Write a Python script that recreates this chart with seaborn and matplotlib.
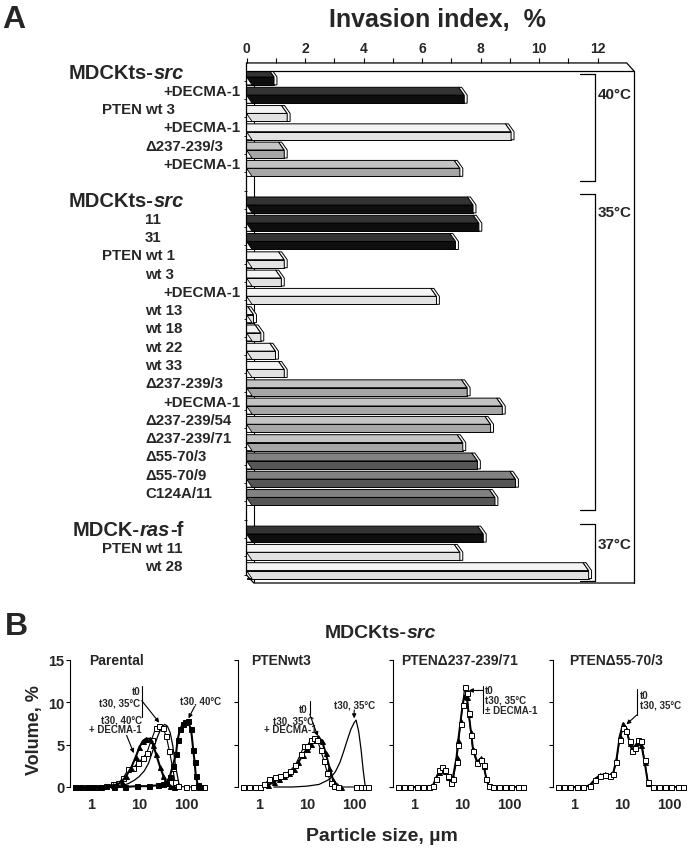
import matplotlib
matplotlib.use("Agg")
import numpy as np
import pandas as pd
import matplotlib.pyplot as plt
import seaborn as sns
from matplotlib.transforms import blended_transform_factory
from matplotlib.ticker import NullLocator

# ---------------- panel A data: invasion index, % ----------------
labels_40 = ["MDCKts-src", "+DECMA-1", "PTEN wt 3", "+DECMA-1", "Δ237-239/3", "+DECMA-1"]
values_40 = [0.75, 7.25, 1.2, 8.85, 1.1, 7.1]
shades_40 = ["black", "black", "light", "light", "mid", "mid"]

labels_35 = ["MDCKts-src", "11", "31", "PTEN wt 1", "wt 3", "+DECMA-1", "wt 13", "wt 18",
             "wt 22", "wt 33", "Δ237-239/3", "+DECMA-1", "Δ237-239/54", "Δ237-239/71",
             "Δ55-70/3", "Δ55-70/9", "C124A/11"]
values_35 = [7.55, 7.75, 6.95, 1.1, 1.0, 6.3, 0.05, 0.3, 0.8, 1.1, 7.35, 8.55, 8.15, 7.2,
             7.7, 9.0, 8.3]
shades_35 = ["black"] * 3 + ["light"] * 7 + ["mid"] * 4 + ["dark"] * 3

labels_37 = ["MDCK-ras-f", "PTEN wt 11", "wt 28"]
values_37 = [7.9, 7.1, 11.5]
shades_37 = ["black", "light", "light"]

temps = ["40°C", "35°C", "37°C"]
xticks_a = [0, 2, 4, 6, 8, 10, 12]

# ---------------- panel B data: particle size distributions ----------------
par_t0_size = [0.45, 0.6, 0.8, 1.1, 1.5, 2.0, 2.8, 3.7, 4.7, 6.0, 7.6, 9.5, 12, 14.6, 18.5, 23,
               27, 32, 38, 44, 52, 58, 66, 100, 140, 190, 240]
par_t0_vol = [0, 0, 0, 0, 0, 0.1, 0.3, 0.5, 1.1, 2.1, 2.3, 2.8, 3.4, 4.0, 5.6, 7.0, 7.2, 7.0,
              6.0, 4.3, 2.2, 0.6, 0.1, 0, 0, 0, 0]
par_35_size = [2, 4, 6, 8, 10, 13, 16, 20, 25, 30, 35, 40, 46, 52, 60, 70, 80]
par_35_vol = [0, 0.1, 0.4, 0.8, 1.2, 1.9, 2.8, 4.4, 6.0, 7.0, 7.4, 7.2, 6.4, 4.9, 2.4, 0.4, 0]
par_dec_size = [0.45, 0.6, 0.8, 1.1, 1.5, 2.0, 2.8, 3.5, 4.3, 5.4, 6.9, 8.5, 10.3, 12, 14, 17,
                20, 23, 28, 33, 38, 45, 55]
par_dec_vol = [0, 0, 0, 0, 0, 0.1, 0.2, 0.3, 0.6, 1.3, 2.3, 3.5, 4.7, 5.4, 5.7, 5.7, 5.0, 3.9,
               2.4, 1.3, 0.5, 0.1, 0]
par_40_size = [0.45, 0.9, 1.6, 3, 5, 9, 16, 25, 32, 38, 45, 52, 61, 66, 74, 84, 96, 108, 127,
               141, 151, 160, 176, 200]
par_40_vol = [0, 0, 0, 0, 0, 0.1, 0.1, 0.2, 0.3, 0.5, 1.2, 2.5, 3.9, 5.6, 6.8, 7.4, 7.7, 7.8,
              6.8, 4.4, 2.9, 1.3, 0.2, 0]

wt3_t0_size = [0.45, 0.6, 0.8, 1.0, 1.25, 1.6, 2.1, 2.7, 3.4, 4.4, 5.7, 7.4, 8.7, 10.3, 12, 14,
               16.5, 19.5, 23, 27, 32, 37, 45, 110, 140, 170, 200]
wt3_t0_vol = [0, 0, 0, 0, 0.3, 0.9, 1.2, 1.3, 1.5, 1.9, 2.6, 3.9, 4.9, 4.9, 5.6, 5.8, 5.6, 4.4,
              3.1, 1.7, 0.5, 0.1, 0, 0, 0, 0, 0]
wt3_dec_size = [0.45, 1.0, 1.5, 2.0, 2.6, 3.3, 4.2, 5.3, 6.6, 8.2, 10, 12, 14.5, 17.5, 21, 25,
                30, 36, 43, 52]
wt3_dec_vol = [0, 0, 0.2, 0.6, 1.0, 1.3, 1.6, 2.1, 2.9, 3.8, 4.5, 5.1, 5.6, 5.9, 5.4, 4.0, 2.3,
               0.8, 0.2, 0]
wt3_35_size = [2, 5, 10, 18, 30, 40, 50, 60, 72, 85, 100, 110, 125, 140, 155, 170, 180]
wt3_35_vol = [0, 0, 0.1, 0.3, 0.9, 1.8, 2.9, 4.2, 5.6, 6.8, 7.6, 7.9, 6.5, 4.4, 2.0, 0.2, 0]

d237_size = [0.45, 0.6, 0.8, 1.1, 1.5, 2.0, 2.45, 2.8, 3.3, 3.8, 4.4, 5.1, 5.8, 6.5, 7.7, 8.4,
             9.4, 10.4, 11.5, 12.7, 14, 15.6, 17.2, 21, 25.5, 28.8, 33, 37, 45, 60, 80, 110,
             150, 200]
d237_sq_vol = [0, 0, 0, 0, 0, 0, 0.1, 0.9, 2.0, 2.4, 2.0, 1.3, 0.5, 0.9, 3.0, 5.0, 7.5, 9.7,
               11.8, 11.1, 8.7, 6.2, 4.2, 2.8, 3.2, 2.6, 0.9, 0.1, 0, 0, 0, 0, 0, 0]
d237_tri_vol = [0, 0, 0, 0, 0, 0, 0.2, 1.0, 1.8, 2.2, 1.9, 1.2, 0.6, 1.2, 3.5, 5.6, 7.8, 9.8,
                10.8, 10.6, 8.6, 6.5, 4.5, 3.0, 3.4, 2.5, 1.0, 0.1, 0, 0, 0, 0, 0, 0]

d55_size = [0.45, 0.6, 0.8, 1.1, 1.5, 2.1, 2.67, 3.4, 4.35, 5.5, 6.5, 7.65, 9.0, 10.6, 12.4,
            14.6, 16.4, 18.6, 21.9, 25.7, 30.1, 35.5, 45, 60, 80, 110, 150, 200]
d55_sq_vol = [0, 0, 0, 0, 0, 0.1, 0.8, 1.3, 1.4, 1.3, 1.5, 2.9, 5.6, 7.0, 6.6, 5.4, 4.2, 4.6,
              5.6, 5.4, 3.2, 0.6, 0, 0, 0, 0, 0, 0]
d55_tri_vol = [0, 0, 0, 0, 0, 0.2, 0.9, 1.4, 1.5, 1.4, 1.6, 3.2, 6.0, 7.5, 6.9, 5.2, 4.4, 4.8,
               5.3, 5.0, 3.0, 0.5, 0, 0, 0, 0, 0, 0]

titles_b = ["Parental", "PTENwt3", "PTENΔ237-239/71", "PTENΔ55-70/3"]

# ---------------- styling ----------------
sns.set_theme(style="white")
plt.rcParams["font.family"] = ["Liberation Sans", "DejaVu Sans"]
plt.rcParams["font.weight"] = "bold"
plt.rcParams["axes.labelweight"] = "bold"

front_colors = {"black": "#0e0e0e", "light": "#e2e2e2", "mid": "#a6a6a6", "dark": "#565656"}
top_colors = {"black": "#333333", "light": "#f4f4f4", "mid": "#c4c4c4", "dark": "#828282"}

W, H = 694, 853
fig = plt.figure(figsize=(W / 100, H / 100), dpi=100)
fig.patch.set_facecolor("white")


def fx(px):
    return px / W


def fy(py):
    return 1 - py / H


# ---------------- panel A ----------------
ax = fig.add_axes([fx(246.5), fy(584), (634 - 246.5) / W, (584 - 72) / H])
ax.set_facecolor("none")

labels, values, shades, rows = [], [], [], []
r = 0
for lab, val, sh in [(labels_40, values_40, shades_40), (labels_35, values_35, shades_35),
                     (labels_37, values_37, shades_37)]:
    for a, b, c in zip(lab, val, sh):
        labels.append(a)
        values.append(b)
        shades.append(c)
        rows.append(r)
        r += 1
    r += 1
n_rows = r - 1  # 28

XMAX = 13.24
DX = 0.19      # bar depth, x units
CAP = 0.1      # end-cap width
FDX, FDY = 0.25, 0.44  # frame depth
rows = np.array(rows, dtype=float)
y_top = rows - 0.11
y_mid = rows + 0.32
y_bot = rows + 0.76

df_a = pd.DataFrame({"row": rows + 0.54, "front": np.array(values) + DX, "shade": shades})

# inner wall edge (visible between groups)
ax.plot([FDX, FDX], [0, n_rows], color="black", lw=0.8, zorder=0.5)

sns.barplot(data=df_a, x="front", y="row", hue="shade", palette=front_colors, orient="y",
            native_scale=True, width=0.44, dodge=False, legend=False, saturation=1,
            edgecolor="black", linewidth=0.7, errorbar=None, ax=ax, zorder=2)

for v, sh, yt, ym, yb in zip(values, shades, y_top, y_mid, y_bot):
    ax.fill([0, v, v + DX, 0], [yt, yt, ym, ym], facecolor=top_colors[sh],
            edgecolor="black", lw=0.7, zorder=3)
    ax.fill([v, v + CAP, v + CAP + DX, v + CAP + DX, v + DX, v + DX],
            [yt, yt, ym, yb, yb, ym], facecolor="white", edgecolor="black", lw=0.7, zorder=4)
    ax.fill([0, DX, 0], [ym, yb, yb], facecolor="white", edgecolor="black", lw=0.6, zorder=4)

ax.set_xlim(0, XMAX)
ax.set_ylim(n_rows, 0)
ax.set_xlabel("")
ax.set_ylabel("")
for s in ax.spines.values():
    s.set_visible(False)

# 3-D frame
frame_kw = dict(color="black", lw=0.9, clip_on=False, zorder=5)
ax.plot([0, XMAX - FDX, XMAX], [-FDY, -FDY, 0], **frame_kw)
ax.plot([0, XMAX], [0, 0], **frame_kw)
ax.plot([XMAX, XMAX], [0, n_rows], **frame_kw)
ax.plot([0, 0, FDX, XMAX], [-FDY, n_rows - FDY, n_rows, n_rows], **frame_kw)

# top axis
ax.xaxis.set_ticks_position("top")
ax.spines["top"].set_position(("outward", FDY * 512 / 28 * 0.72))
ax.set_xticks(xticks_a)
ax.set_xticklabels([str(t) for t in xticks_a])
ax.set_xticks(range(1, 13, 2), minor=True)
ax.tick_params(axis="x", which="both", direction="out", length=3.5, width=0.8, color="black",
               labelsize=10, pad=2, top=True, bottom=False)
ax.set_yticks(np.arange(n_rows) + 0.54)
ax.tick_params(axis="y", left=True, length=2, width=0.6, color="black", labelleft=False)

# row labels
trans = blended_transform_factory(fig.transFigure, ax.transData)
big_parts = {"MDCKts-src": [("MDCKts-", "normal"), ("src", "italic")],
             "MDCK-ras-f": [("MDCK-", "normal"), ("ras", "italic"), ("-f", "normal")]}
for lab, yr in zip(labels, rows):
    y = yr + 0.08
    if lab in big_parts:
        parts = big_parts[lab]
        x0 = 69 if lab.startswith("MDCKts") else 73
        t = ax.text(fx(x0), y, parts[0][0], transform=trans, fontsize=14.5, ha="left",
                    va="center")
        for txt, st in parts[1:]:
            t = ax.annotate(txt, xy=(1, 0), xycoords=t, xytext=(0, 0),
                            textcoords="offset points", fontsize=14.5, fontstyle=st,
                            ha="left", va="bottom", annotation_clip=False)
    elif lab.startswith("+"):
        ax.text(fx(240), y, lab, transform=trans, fontsize=10.8, ha="right", va="center")
    elif lab.startswith("PTEN"):
        ax.text(fx(102), y, lab, transform=trans, fontsize=10.8, ha="left", va="center")
    else:
        ax.text(fx(145), y, lab, transform=trans, fontsize=10.8, ha="left", va="center")

# temperature brackets
bracket_spans = [(0.16, 5.99), (6.72, 23.99), (24.75, 27.9)]
bracket_label_y = [1.26, 7.7, 25.85]
for (b0, b1), ly, tlabel in zip(bracket_spans, bracket_label_y, temps):
    ax.plot([11.39, 11.91, 11.91, 11.39], [b0, b0, b1, b1], color="black", lw=0.9,
            clip_on=False, zorder=5)
    ax.text(12.01, ly, tlabel, fontsize=11, ha="left", va="center")

fig.text(fx(437), fy(20), "Invasion index,  %", fontsize=18, ha="center", va="center")
fig.text(fx(2), fy(20), "A", fontsize=23, ha="left", va="center")

# ---------------- panel B ----------------
fig.text(fx(5), fy(627), "B", fontsize=23, ha="left", va="center")
axes_left = [70, 238, 393, 553]
axes_b = [fig.add_axes([fx(L), fy(788), 135 / W, 127 / H]) for L in axes_left]


def curve(axb, sizes, vols, marker="", mfc="white", lw=1.0, ms=3.6):
    sns.lineplot(x=sizes, y=vols, ax=axb, color="black", lw=lw, marker=marker, markersize=ms,
                 markerfacecolor=mfc, markeredgecolor="black", markeredgewidth=0.7,
                 sort=False, estimator=None, legend=False, clip_on=False)


curve(axes_b[0], par_35_size, par_35_vol, lw=0.9)
curve(axes_b[0], par_t0_size, par_t0_vol, marker="s", lw=0.8)
curve(axes_b[0], par_dec_size, par_dec_vol, marker="^", mfc="black", lw=1.5)
curve(axes_b[0], par_40_size, par_40_vol, marker="s", mfc="black", lw=1.5)

curve(axes_b[1], wt3_35_size, wt3_35_vol, lw=0.9)
curve(axes_b[1], wt3_dec_size, wt3_dec_vol, marker="^", mfc="black", lw=1.5)
curve(axes_b[1], wt3_t0_size, wt3_t0_vol, marker="s", lw=0.8)

curve(axes_b[2], d237_size, d237_tri_vol, marker="^", mfc="black", lw=1.4)
curve(axes_b[2], d237_size, d237_sq_vol, marker="s", lw=0.9)

curve(axes_b[3], d55_size, d55_tri_vol, marker="^", mfc="black", lw=1.4)
curve(axes_b[3], d55_size, d55_sq_vol, marker="s", lw=0.9)

title_pos = [(0.14, "left"), (0.10, "left"), (0.49, "center"), (0.47, "center")]
for i, axb in enumerate(axes_b):
    axb.set_facecolor("none")
    axb.set_xscale("log")
    axb.set_xlim(0.35, 250)
    axb.set_ylim(0, 15)
    axb.set_xlabel("")
    axb.set_ylabel("")
    for s in ["top", "right", "bottom"]:
        axb.spines[s].set_visible(False)
    axb.spines["left"].set_color("black")
    axb.spines["left"].set_linewidth(0.8)
    axb.set_xticks([1, 10, 100])
    axb.set_xticklabels(["1", "10", "100"])
    axb.xaxis.set_minor_locator(NullLocator())
    axb.tick_params(axis="x", length=0, labelsize=10.5, pad=7)
    axb.set_yticks([0, 5, 10, 15])
    axb.tick_params(axis="y", left=True, length=3, width=0.8, color="black", labelsize=10.5,
                    pad=1, labelleft=(i == 0))
    axb.grid(False)
    tx, tha = title_pos[i]
    axb.text(tx, 1.0, titles_b[i], transform=axb.transAxes, fontsize=10, ha=tha, va="center")

akw = dict(fontsize=7, va="center")
arrow = dict(arrowstyle="-|>", color="black", lw=0.8, mutation_scale=6, shrinkA=0, shrinkB=0)
a0, a1, a2, a3 = axes_b

a0.text(10.7, 11.35, "t0", ha="right", **akw)
a0.text(10.7, 10.0, "t30, 35°C", ha="right", **akw)
a0.plot([11.5, 11.5], [11.96, 8.3], color="black", lw=0.8)
a0.annotate("", xy=(27, 7.6), xytext=(11.5, 10.2), arrowprops=arrow)
a0.text(11.6, 8.0, "t30, 40°C", ha="right", **akw)
a0.text(11.6, 6.85, "+ DECMA-1", ha="right", **akw)
a0.annotate("", xy=(7.8, 4.0), xytext=(5.5, 6.1), arrowprops=arrow)
a0.text(74, 10.2, "t30, 40°C", ha="left", clip_on=False, **akw)
a0.annotate("", xy=(112, 8.1), xytext=(150, 9.5), arrowprops=arrow, annotation_clip=False)

a1.text(100, 9.7, "t30, 35°C", ha="center", **akw)
a1.annotate("", xy=(100, 8.1), xytext=(100, 9.1), arrowprops=arrow)
a1.text(10.3, 9.2, "t0", ha="right", **akw)
a1.text(14.5, 7.9, "t30, 35°C", ha="right", **akw)
a1.text(16, 6.8, "+ DECMA-1", ha="right", **akw)
a1.plot([11.5, 11.5], [10.2, 8.6], color="black", lw=0.8)
a1.annotate("", xy=(17, 6.0), xytext=(11.5, 8.6), arrowprops=arrow)

a2.plot([27.6, 27.6], [11.9, 8.7], color="black", lw=0.8)
a2.annotate("", xy=(14, 11.4), xytext=(27.6, 11.4), arrowprops=arrow)
a2.text(30.8, 11.45, "t0", ha="left", **akw)
a2.text(30.8, 10.3, "t30, 35°C", ha="left", **akw)
a2.text(30.8, 9.15, "± DECMA-1", ha="left", clip_on=False, **akw)

a3.plot([20.6, 20.6], [11.6, 8.5], color="black", lw=0.8)
a3.annotate("", xy=(12.5, 7.4), xytext=(20.6, 8.5), arrowprops=arrow)
a3.text(24.2, 10.9, "t0", ha="left", **akw)
a3.text(24.2, 9.75, "t30, 35°C", ha="left", clip_on=False, **akw)

t = fig.text(fx(325), fy(633), "MDCKts-", fontsize=14, ha="left", va="center")
a0.annotate("src", xy=(1, 0), xycoords=t, xytext=(0, 0), textcoords="offset points",
            fontsize=14, fontstyle="italic", ha="left", va="bottom", annotation_clip=False)
fig.text(fx(35), fy(730), "Volume, %", fontsize=13, rotation=90, ha="center", va="center")
fig.text(fx(382), fy(837), "Particle size, µm", fontsize=14, ha="center", va="center")

fig.savefig("out.png", dpi=100, facecolor="white")
